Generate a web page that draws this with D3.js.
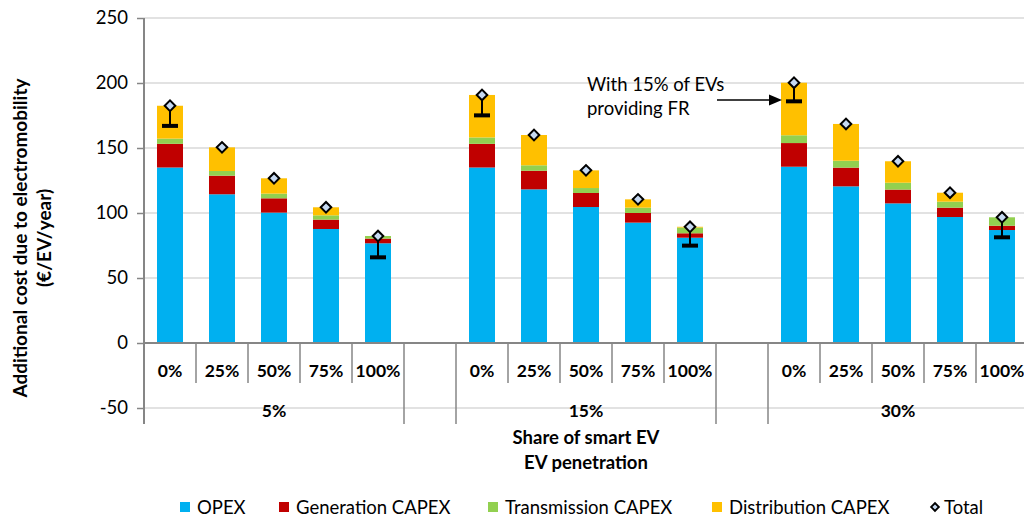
<!DOCTYPE html>
<html><head><meta charset="utf-8">
<script src="https://cdn.jsdelivr.net/npm/d3@7"></script>
<style>
html,body{margin:0;padding:0;background:#fff;}
svg{display:block;font-family:Lato,"Open Sans",sans-serif;}
</style></head>
<body>
<svg id="chart" width="1024" height="517"></svg>
<script>
// ---- data ----
const groups = ["5%", "15%", "30%"];
const shares = ["0%", "25%", "50%", "75%", "100%"];
const seriesNames = ["OPEX", "Generation CAPEX", "Transmission CAPEX", "Distribution CAPEX"];
const colors = ["#00B0F0", "#C00000", "#92D050", "#FFC000"];
// values per group, per share (order of shares)
const opex        = [[135, 114.4, 100.3, 87.7, 76.7], [135, 118.2, 104.6, 92.6, 81.0], [135.6, 120.5, 107.4, 96.9, 86.9]];
const generation  = [[18.2, 14.3, 11.0, 7.2, 3.6],    [18.2, 14.3, 10.8, 7.4, 3.4],    [18.2, 14.4, 10.6, 7.2, 3.3]];
const transmission= [[4.0, 3.6, 3.6, 3.3, 2.0],       [4.9, 4.2, 3.8, 4.1, 4.4],       [6.0, 5.3, 5.3, 4.6, 6.5]];
const distribution= [[25.3, 18.2, 11.8, 6.2, 0.0],    [32.7, 23.3, 13.6, 6.4, 0.6],    [40.4, 28.3, 16.5, 6.9, 0.0]];
// total with 15% of EVs providing FR (only shown for 0% and 100%)
const frTotal     = [[167, null, null, null, 65.9],   [175.1, null, null, null, 74.9], [185.9, null, null, null, 81.3]];
const yTicks = [-50, 0, 50, 100, 150, 200, 250];

// ---- layout ----
const svg = d3.select("#chart");
const pLeft = 144, pRight = 1028, pTop = 18, pBottom = 408;
const slots = [];
groups.forEach((g, gi) => {
  shares.forEach(s => slots.push(g + "|" + s));
  if (gi < groups.length - 1) slots.push("blank" + gi);
});
const x = d3.scaleBand().domain(slots).range([pLeft, pRight]).paddingInner(0.5).paddingOuter(0.25);
const slot = d3.scaleBand().domain(slots).range([pLeft, pRight]).padding(0);
const y = d3.scaleLinear().domain([-50, 250]).range([pBottom, pTop]);

// gridlines
svg.append("g").selectAll("line").data(yTicks.filter(t => t !== 0)).join("line")
  .attr("x1", pLeft).attr("x2", 1024).attr("y1", d => y(d)).attr("y2", d => y(d))
  .attr("stroke", "#d9d9d9").attr("stroke-width", 1.5);

// stacked data
const rows = [];
groups.forEach((g, gi) => shares.forEach((s, si) => {
  const vals = [opex[gi][si], generation[gi][si], transmission[gi][si], distribution[gi][si]];
  let acc = 0;
  const segs = vals.map((v, k) => { const y0 = acc; acc += v; return {k, y0, y1: acc}; });
  rows.push({key: g + "|" + s, segs, total: acc, fr: frTotal[gi][si]});
}));

// bars
const barG = svg.append("g");
rows.forEach(r => {
  barG.selectAll(null).data(r.segs.filter(d => d.y1 - d.y0 > 0)).join("rect")
    .attr("x", x(r.key)).attr("width", x.bandwidth())
    .attr("y", d => y(d.y1)).attr("height", d => y(d.y0) - y(d.y1))
    .attr("fill", d => colors[d.k]);
});

// y axis
const yAxis = d3.axisLeft(y).tickValues(yTicks).tickFormat(d => String(d))
  .tickSize(7).tickSizeOuter(0).tickPadding(9);
const ya = svg.append("g").attr("transform", `translate(${pLeft},0)`).call(yAxis);
ya.select(".domain").remove();
ya.selectAll(".tick line").attr("stroke", "#868686").attr("stroke-width", 1.5);
ya.selectAll(".tick text").attr("font-family", "Lato").attr("font-size", 18.5).attr("fill", "#000");
svg.append("line").attr("x1", pLeft).attr("x2", pLeft).attr("y1", pTop).attr("y2", 424)
  .attr("stroke", "#868686").attr("stroke-width", 2);

// category axis at 0
svg.append("line").attr("x1", pLeft).attr("x2", 1024).attr("y1", y(0)).attr("y2", y(0))
  .attr("stroke", "#868686").attr("stroke-width", 2);

// separators
const ax = svg.append("g");
slots.forEach((s, i) => {
  if (i === 0) return;
  const prev = slots[i - 1];
  const isLong = s.startsWith("blank") || prev.startsWith("blank");
  ax.append("line").attr("x1", slot(s)).attr("x2", slot(s))
    .attr("y1", y(0)).attr("y2", isLong ? 424 : 383)
    .attr("stroke", "#868686").attr("stroke-width", 1.5);
});
ax.append("line").attr("x1", pRight).attr("x2", pRight).attr("y1", y(0)).attr("y2", 424)
  .attr("stroke", "#868686").attr("stroke-width", 1.5);

// inner labels
rows.forEach(r => {
  ax.append("text").attr("x", x(r.key) + x.bandwidth() / 2).attr("y", 377)
    .attr("text-anchor", "middle").attr("font-weight", "bold").attr("font-size", 17.5)
    .text(r.key.split("|")[1]);
});
// group labels
groups.forEach(g => {
  const x0 = slot(g + "|" + shares[0]);
  const x1 = slot(g + "|" + shares[shares.length - 1]) + slot.bandwidth();
  ax.append("text").attr("x", (x0 + x1) / 2).attr("y", 417)
    .attr("text-anchor", "middle").attr("font-weight", "bold").attr("font-size", 17.5).text(g);
});

// error bars (FR) and total markers
const markG = svg.append("g");
rows.forEach(r => {
  const cx = x(r.key) + x.bandwidth() / 2;
  if (r.fr !== null) {
    markG.append("line").attr("x1", cx).attr("x2", cx).attr("y1", y(r.total)).attr("y2", y(r.fr))
      .attr("stroke", "#000").attr("stroke-width", 2);
    markG.append("rect").attr("x", cx - 8).attr("width", 16).attr("y", y(r.fr) - 2).attr("height", 4)
      .attr("fill", "#000");
  }
});
const diamond = d3.symbol(d3.symbolSquare, 56);
rows.forEach(r => {
  const cx = x(r.key) + x.bandwidth() / 2;
  markG.append("path").attr("d", diamond())
    .attr("transform", `translate(${cx},${y(r.total)}) rotate(45)`)
    .attr("fill", "#C6D9F1").attr("stroke", "#000").attr("stroke-width", 2);
});

// annotation
const ann = svg.append("g");
ann.append("text").attr("x", 587).attr("y", 91).attr("font-size", 18.5).text("With 15% of EVs");
ann.append("text").attr("x", 587).attr("y", 115).attr("font-size", 18.5).text("providing FR");
ann.append("line").attr("x1", 717).attr("x2", 770).attr("y1", 100).attr("y2", 100)
  .attr("stroke", "#000").attr("stroke-width", 1.5);
ann.append("path").attr("d", "M782,100 L769,94.5 L769,105.5 Z").attr("fill", "#000");

// axis titles
svg.append("text").attr("x", 586).attr("y", 444).attr("text-anchor", "middle")
  .attr("font-weight", "bold").attr("font-size", 18.5).text("Share of smart EV");
svg.append("text").attr("x", 586).attr("y", 469).attr("text-anchor", "middle")
  .attr("font-weight", "bold").attr("font-size", 18.5).text("EV penetration");
const yt = svg.append("text").attr("transform", "translate(27,238) rotate(-90)")
  .attr("text-anchor", "middle").attr("font-weight", "bold").attr("font-size", 19);
yt.append("tspan").attr("x", 0).attr("dy", 0).text("Additional cost due to electromobility");
yt.append("tspan").attr("x", 0).attr("dy", 24).text("(€/EV/year)");

// legend
const legendX = [180, 279, 488, 712];
const lg = svg.append("g");
seriesNames.forEach((n, i) => {
  lg.append("rect").attr("x", legendX[i]).attr("y", 502).attr("width", 10).attr("height", 10).attr("fill", colors[i]);
  lg.append("text").attr("x", legendX[i] + 17).attr("y", 514).attr("font-size", 18.5).text(n);
});
lg.append("path").attr("d", d3.symbol(d3.symbolSquare, 30)())
  .attr("transform", "translate(935,507) rotate(45)")
  .attr("fill", "#C6D9F1").attr("stroke", "#000").attr("stroke-width", 1.8);
lg.append("text").attr("x", 944).attr("y", 514).attr("font-size", 18.5).text("Total");
</script>
</body></html>
